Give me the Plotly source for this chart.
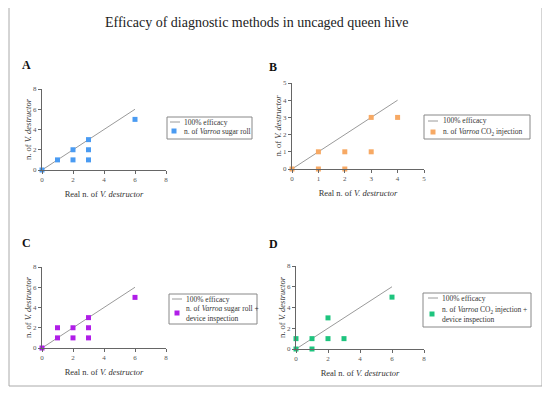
import plotly.graph_objects as go

# page body has an 8px margin: figure is drawn 8px in from the window corner
OFF = 8
W, H = 550 - 2 * OFF, 396 - 2 * OFF

# ---- data ----
a_x = [0, 1, 2, 2, 3, 3, 3, 6]
a_y = [0, 1, 2, 1, 3, 2, 1, 5]
b_x = [0, 1, 1, 2, 2, 3, 3, 4]
b_y = [0, 1, 0, 1, 0, 3, 1, 3]
c_x = [0, 1, 1, 2, 2, 3, 3, 3, 6]
c_y = [0, 2, 1, 2, 1, 3, 2, 1, 5]
d_x = [0, 0, 1, 1, 2, 2, 3, 6]
d_y = [0, 1, 1, 0, 3, 1, 1, 5]
line_acd = [0, 6]
line_b = [0, 4]

names = [
    "n. of <i>Varroa</i> sugar roll",
    "n. of <i>Varroa</i> CO<sub>2</sub> injection",
    "n. of <i>Varroa</i> sugar roll +<br>device inspection",
    "n. of <i>Varroa</i> CO<sub>2</sub> injection +<br>device inspection",
]
colors = ["#4a9bf2", "#f7a964", "#b01ee8", "#1ec47e"]
letters = ["A", "B", "C", "D"]

FONT = "Liberation Serif"

def fx(px):
    return (px - OFF) / W

def fy(py):
    return 1 - (py - OFF) / H

# plot areas in window pixels: (x0, x1, ytop, ybottom)
areas = [(42, 166, 89, 170), (292, 424, 83, 169), (42, 166, 267, 348), (296, 424, 266, 349)]
ranges = [(8, 2), (5, 1), (8, 2), (8, 2)]
legends = [
    dict(box=(167, 252, 117, 139), ly=122, my=131, lx=170, tx=182, mx=174),
    dict(box=(424, 530, 115, 139), ly=121, my=132, lx=428, tx=441, mx=433),
    dict(box=(169, 257, 294, 324), ly=299, my=313, lx=172, tx=184, mx=177),
    dict(box=(423, 531, 293, 327), ly=298, my=314, lx=428, tx=440, mx=432),
]
letter_pos = [(26, 65), (273, 67), (26, 243), (273, 244)]
pts = [(a_x, a_y, line_acd), (b_x, b_y, line_b), (c_x, c_y, line_acd), (d_x, d_y, line_acd)]

fig = go.Figure()
layout = dict(
    width=W, height=H, margin=dict(l=0, r=0, t=0, b=0, autoexpand=False),
    paper_bgcolor="white", plot_bgcolor="white",
    font=dict(family=FONT, color="#333"),
    showlegend=False,
)
annotations = []
shapes = [dict(type="rect", xref="paper", yref="paper",
               x0=fx(9), x1=fx(542), y0=fy(386), y1=fy(7),
               line=dict(color="#aaa", width=1))]
for i in range(4):
    sfx = "" if i == 0 else str(i + 1)
    xa = "x" + sfx
    ya = "y" + sfx
    px, py, ln = pts[i]
    fig.add_trace(go.Scatter(x=ln, y=ln, mode="lines", name="100% efficacy",
                             line=dict(color="#9a9a9a", width=1),
                             xaxis=xa, yaxis=ya, cliponaxis=False))
    fig.add_trace(go.Scatter(x=px, y=py, mode="markers", name=names[i],
                             marker=dict(symbol="square", size=5, color=colors[i]),
                             xaxis=xa, yaxis=ya, cliponaxis=False))
    x0, x1, yt, yb = areas[i]
    rmax, dt = ranges[i]
    axcommon = dict(range=[0, rmax], dtick=dt, tick0=0, showgrid=False, zeroline=False,
                    showline=True, linecolor="#666", linewidth=1, ticks="outside",
                    ticklen=3, tickcolor="#666", tickfont=dict(size=7, color="#555"),
                    fixedrange=True, automargin=False)
    layout["xaxis" + sfx] = dict(axcommon, domain=[fx(x0), fx(x1)], anchor=ya,
                                 title=dict(text="Real n. of <i>V. destructor</i>",
                                            font=dict(size=8.5, color="#333"), standoff=7))
    layout["yaxis" + sfx] = dict(axcommon, domain=[fy(yb), fy(yt)], anchor=xa,
                                 title=dict(text="n. of <i>V. destructor</i>",
                                            font=dict(size=8.5, color="#333"), standoff=0))
    lg = legends[i]
    bx0, bx1, by0, by1 = lg["box"]
    shapes.append(dict(type="rect", xref="paper", yref="paper",
                       x0=fx(bx0), x1=fx(bx1), y0=fy(by1), y1=fy(by0),
                       line=dict(color="#888", width=1), fillcolor="white"))
    shapes.append(dict(type="line", xref="paper", yref="paper",
                       x0=fx(lg["lx"]), x1=fx(lg["lx"] + 10), y0=fy(lg["ly"]), y1=fy(lg["ly"]),
                       line=dict(color="#9a9a9a", width=1)))
    shapes.append(dict(type="rect", xref="paper", yref="paper",
                       x0=fx(lg["mx"] - 2.5), x1=fx(lg["mx"] + 2.5),
                       y0=fy(lg["my"] + 2.5), y1=fy(lg["my"] - 2.5),
                       line=dict(width=0), fillcolor=colors[i]))
    annotations.append(dict(x=fx(lg["tx"]), y=fy(lg["ly"]), xref="paper", yref="paper",
                            xanchor="left", yanchor="middle", text="100% efficacy",
                            showarrow=False, font=dict(size=7.5, color="#333", family=FONT)))
    annotations.append(dict(x=fx(lg["tx"]), y=fy(lg["my"]), xref="paper", yref="paper",
                            xanchor="left", yanchor="middle", align="left", text=names[i],
                            showarrow=False, font=dict(size=7.5, color="#333", family=FONT)))
    tx, ty = letter_pos[i]
    annotations.append(dict(x=fx(tx), y=fy(ty), xref="paper", yref="paper",
                            xanchor="center", yanchor="middle",
                            text="<b>" + letters[i] + "</b>", showarrow=False,
                            font=dict(size=12, color="#111", family=FONT)))

annotations.append(dict(x=fx(257), y=fy(22), xref="paper", yref="paper",
                        xanchor="center", yanchor="middle",
                        text="Efficacy of diagnostic methods in uncaged queen hive",
                        showarrow=False, font=dict(size=14, color="#222", family=FONT)))
layout["annotations"] = annotations
layout["shapes"] = shapes
fig.update_layout(**layout)
fig.write_html("out.html")
